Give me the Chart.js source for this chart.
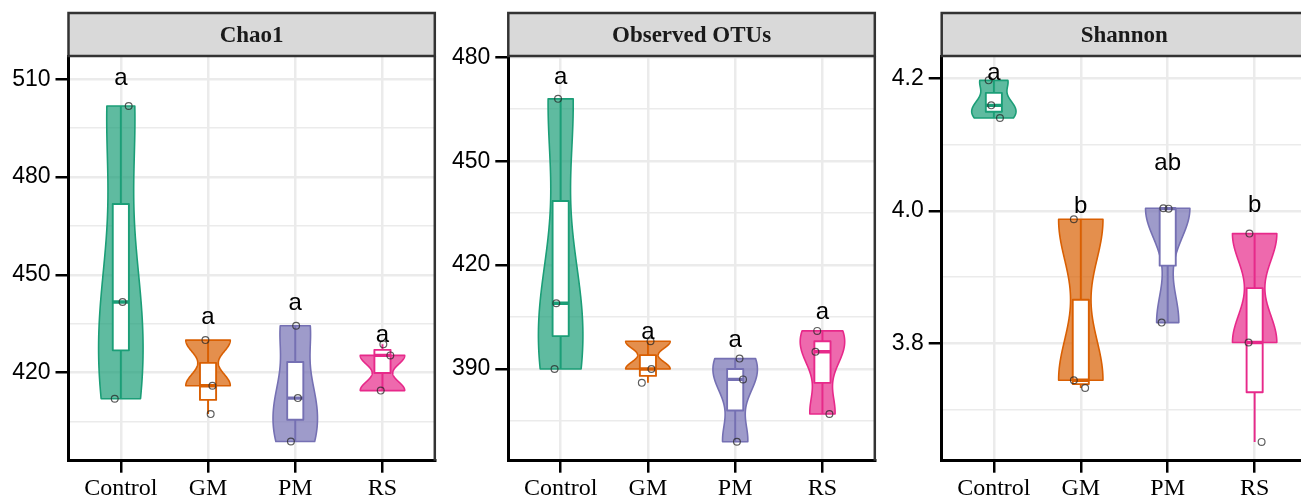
<!DOCTYPE html>
<html>
<head>
<meta charset="utf-8">
<script src="https://cdn.jsdelivr.net/npm/chart.js@4.4.1/dist/chart.umd.min.js"></script>
<style>
  html, body { margin: 0; padding: 0; background: #ffffff; overflow: hidden; width: 1301px; height: 495px; }
  .panel { position: absolute; top: 0; }
  canvas { display: block; }
</style>
</head>
<body>
<div class="panel" style="left:0px"><canvas id="chao1" width="440" height="495" style="width:440px;height:495px"></canvas></div>
<div class="panel" style="left:440px"><canvas id="otus" width="440" height="495" style="width:440px;height:495px"></canvas></div>
<div class="panel" style="left:880px"><canvas id="shannon" width="432" height="495" style="width:432px;height:495px"></canvas></div>
<script>
// Treatment groups and their Dark2 colours
const groups = ['Control', 'GM', 'PM', 'RS'];
const groupColors = ['#1B9E77', '#D95F02', '#7570B3', '#E7298A'];

// Chao1 richness (three replicates per group)
const chao1Values = [[501.8, 441.7, 412.0], [430.0, 416.0, 407.3], [434.4, 412.2, 398.9], [428.7, 425.3, 414.5]];
const chao1Jitter = [[0.09, 0.02, -0.07], [-0.03, 0.05, 0.03], [0.01, 0.03, -0.05], [0.01, 0.09, -0.02]];
const chao1ViolinSamples = [[501.8, 441.7, 412.0], [430.0, 416.0], [434.4, 412.2, 398.9], [425.3, 414.5]];
const chao1Letters = ['a', 'a', 'a', 'a'];
const chao1LetterAt = [508.4, 434.9, 439.2, 429.3];
const chao1MajorTicks = [420, 450, 480, 510];
const chao1MinorTicks = [405, 435, 465, 495];

// Observed OTUs
const otuValues = [[468, 409, 390], [398, 390, 386], [393, 387, 369], [401, 395, 377]];
const otuJitter = [[-0.03, -0.05, -0.07], [0.03, 0.04, -0.07], [0.05, 0.09, 0.02], [-0.06, -0.08, 0.08]];
const otuViolinSamples = [[468, 409, 390], [398, 390], [393, 387, 369], [401, 395, 377]];
const otuLetters = ['a', 'a', 'a', 'a'];
const otuLetterAt = [472.4, 398.6, 396.3, 404.3];
const otuMajorTicks = [390, 420, 450, 480];
const otuMinorTicks = [375, 405, 435, 465];

// Shannon diversity
const shannonValues = [[4.1975, 4.1597, 4.1405], [3.9875, 3.7441, 3.7325], [4.0041, 4.0035, 3.8313], [3.9658, 3.8011, 3.6509]];
const shannonJitter = [[-0.06, -0.03, 0.07], [-0.08, -0.08, 0.05], [-0.05, 0.01, -0.07], [-0.06, -0.07, 0.08]];
const shannonViolinSamples = [[4.1975, 4.1597, 4.1405], [3.9875, 3.7441], [4.0041, 4.0035, 3.8313], [3.9658, 3.8011]];
const shannonLetters = ['a', 'b', 'ab', 'b'];
const shannonLetterAt = [4.1975, 3.9976, 4.0625, 3.998];
const shannonMajorTicks = [3.8, 4.0, 4.2];
const shannonMinorTicks = [3.7, 3.9, 4.1];

// ---- summary statistics (R-style) ----
function quantile7(sorted, p) {
  const h = (sorted.length - 1) * p;
  const lo = Math.floor(h), hi = Math.ceil(h);
  return sorted[lo] + (h - lo) * (sorted[hi] - sorted[lo]);
}
function boxStats(vals) {
  const s = [...vals].sort((a, b) => a - b);
  const q1 = quantile7(s, 0.25), med = quantile7(s, 0.5), q3 = quantile7(s, 0.75);
  const iqr = q3 - q1;
  const lo = s.find(v => v >= q1 - 1.5 * iqr);
  const hi = [...s].reverse().find(v => v <= q3 + 1.5 * iqr);
  return { q1, med, q3, lo, hi };
}
function stdDev(a) {
  const m = a.reduce((t, v) => t + v, 0) / a.length;
  return Math.sqrt(a.reduce((t, v) => t + (v - m) * (v - m), 0) / (a.length - 1));
}
function bwNrd0(a) {
  const s = [...a].sort((p, q) => p - q);
  const hi = stdDev(s);
  let lo = Math.min(hi, (quantile7(s, 0.75) - quantile7(s, 0.25)) / 1.34);
  if (!lo) lo = hi || Math.abs(s[0]) || 1;
  return 0.9 * lo * Math.pow(s.length, -0.2);
}
// Gaussian kernel density over the sample range, scaled to a maximum of 1
function violinProfile(samples, steps) {
  const s = [...samples].sort((p, q) => p - q);
  const bw = bwNrd0(s);
  const from = s[0], to = s[s.length - 1];
  const prof = [];
  for (let i = 0; i <= steps; i++) {
    const v = from + (to - from) * i / steps;
    let d = 0;
    s.forEach(xi => { const z = (v - xi) / bw; d += Math.exp(-0.5 * z * z); });
    prof.push([v, d]);
  }
  const mx = Math.max(...prof.map(r => r[1]));
  return prof.map(([v, d]) => [v, d / mx]);
}
function withAlpha(hex, a) {
  const n = parseInt(hex.slice(1), 16);
  return `rgba(${(n >> 16) & 255},${(n >> 8) & 255},${n & 255},${a})`;
}

const VIOLIN_WIDTH = 0.51;
const BOX_WIDTH = 0.185;
const STRIP_TOP = 13;

function makePanel(p) {
  const canvas = document.getElementById(p.canvasId);
  const points = [];
  p.values.forEach((vals, g) => vals.forEach((v, i) => points.push({ x: g + 1 + p.jitter[g][i], y: v })));
  const allTicks = [...p.majorTicks, ...p.minorTicks].sort((a, b) => a - b);
  const isMajor = v => p.majorTicks.some(m => Math.abs(m - v) < 1e-9);

  const facet = {
    id: 'facet_' + p.canvasId,
    beforeDatasetsDraw(chart) {
      const { ctx, chartArea, scales: { x, y } } = chart;
      ctx.save();
      ctx.beginPath();
      ctx.rect(chartArea.left, chartArea.top, chartArea.right - chartArea.left, chartArea.bottom - chartArea.top);
      ctx.clip();
      // violins
      p.violinSamples.forEach((samples, g) => {
        const prof = violinProfile(samples, 200);
        const c = g + 1, hw = VIOLIN_WIDTH / 2;
        ctx.beginPath();
        prof.forEach(([v, w], i) => {
          const px = x.getPixelForValue(c + w * hw), py = y.getPixelForValue(v);
          if (i === 0) ctx.moveTo(px, py); else ctx.lineTo(px, py);
        });
        for (let i = prof.length - 1; i >= 0; i--) {
          const [v, w] = prof[i];
          ctx.lineTo(x.getPixelForValue(c - w * hw), y.getPixelForValue(v));
        }
        ctx.closePath();
        ctx.fillStyle = withAlpha(groupColors[g], 0.7);
        ctx.fill();
        ctx.lineWidth = 1.6;
        ctx.lineJoin = 'round';
        ctx.strokeStyle = groupColors[g];
        ctx.stroke();
      });
      // box plots
      p.values.forEach((vals, g) => {
        const st = boxStats(vals);
        const c = g + 1, col = groupColors[g];
        const xc = x.getPixelForValue(c);
        const x0 = x.getPixelForValue(c - BOX_WIDTH / 2), x1 = x.getPixelForValue(c + BOX_WIDTH / 2);
        ctx.strokeStyle = col;
        ctx.lineWidth = 1.9;
        ctx.lineCap = 'butt';
        ctx.beginPath();
        ctx.moveTo(xc, y.getPixelForValue(st.q3)); ctx.lineTo(xc, y.getPixelForValue(st.hi));
        ctx.moveTo(xc, y.getPixelForValue(st.q1)); ctx.lineTo(xc, y.getPixelForValue(st.lo));
        ctx.stroke();
        const yt = y.getPixelForValue(st.q3), yb = y.getPixelForValue(st.q1);
        ctx.fillStyle = '#ffffff';
        ctx.fillRect(x0, yt, x1 - x0, yb - yt);
        ctx.strokeRect(x0, yt, x1 - x0, yb - yt);
        ctx.lineWidth = 3.4;
        ctx.beginPath();
        const ym = y.getPixelForValue(st.med);
        ctx.moveTo(x0, ym); ctx.lineTo(x1, ym);
        ctx.stroke();
      });
      ctx.restore();
    },
    afterDatasetsDraw(chart) {
      const { ctx, scales: { x, y } } = chart;
      ctx.save();
      ctx.font = '24px "Liberation Sans", Arial, sans-serif';
      ctx.fillStyle = '#000000';
      ctx.textAlign = 'center';
      ctx.textBaseline = 'alphabetic';
      p.letters.forEach((t, g) => ctx.fillText(t, x.getPixelForValue(g + 1), y.getPixelForValue(p.letterAt[g])));
      ctx.restore();
    },
    afterDraw(chart) {
      const { ctx, chartArea } = chart;
      const l = chartArea.left, r = chartArea.right, t = chartArea.top, b = chartArea.bottom;
      ctx.save();
      ctx.fillStyle = '#D9D9D9';
      ctx.fillRect(l, STRIP_TOP, r - l, t - STRIP_TOP);
      ctx.strokeStyle = '#333333';
      ctx.lineWidth = 2.5;
      ctx.strokeRect(l, STRIP_TOP, r - l, t - STRIP_TOP);
      ctx.beginPath();
      ctx.moveTo(r, t); ctx.lineTo(r, b);
      ctx.stroke();
      ctx.fillStyle = '#1a1a1a';
      ctx.font = 'bold 23px "Liberation Serif", "Times New Roman", serif';
      ctx.textAlign = 'center';
      ctx.textBaseline = 'alphabetic';
      ctx.fillText(p.title, (l + r) / 2, STRIP_TOP + 28.5);
      ctx.restore();
    }
  };

  return new Chart(canvas, {
    type: 'scatter',
    data: {
      datasets: [{
        data: points,
        pointRadius: 3.4,
        pointBorderWidth: 1.2,
        pointBorderColor: 'rgba(40,40,40,0.75)',
        pointBackgroundColor: 'rgba(0,0,0,0)',
        showLine: false
      }]
    },
    options: {
      responsive: false,
      animation: false,
      events: [],
      layout: { padding: { top: 56, right: p.padRight, left: 0, bottom: 0 } },
      plugins: { legend: { display: false }, tooltip: { enabled: false } },
      scales: {
        x: {
          type: 'linear', min: 0.4, max: 4.6,
          afterBuildTicks: s => { s.ticks = [1, 2, 3, 4].map(v => ({ value: v })); },
          afterFit: s => { s.height = 34.3; },
          ticks: {
            callback: v => groups[Math.round(v) - 1] || '',
            font: { family: '"Liberation Serif", "Times New Roman", serif', size: 24 },
            color: '#000000', padding: 1.5, maxRotation: 0, autoSkip: false
          },
          grid: { color: '#EBEBEB', lineWidth: 2.5, tickColor: '#000000', tickWidth: 2.5, tickLength: 12 },
          border: { display: true, color: '#000000', width: 3 }
        },
        y: {
          type: 'linear', min: p.yMin, max: p.yMax,
          afterBuildTicks: s => { s.ticks = allTicks.map(v => ({ value: v })); },
          afterFit: s => { s.width = p.axisWidth; },
          ticks: {
            callback: v => isMajor(v) ? v.toFixed(p.decimals) : '',
            font: { family: '"Liberation Sans", Arial, sans-serif', size: 23 },
            color: '#000000', padding: 5, autoSkip: false
          },
          grid: {
            color: '#EBEBEB',
            lineWidth: c => (c.tick && !isMajor(c.tick.value)) ? 1.6 : 2.5,
            tickColor: c => (c.tick && !isMajor(c.tick.value)) ? 'rgba(0,0,0,0)' : '#000000',
            tickWidth: 2.5, tickLength: 13
          },
          border: { display: true, color: '#000000', width: 3 }
        }
      }
    },
    plugins: [facet]
  });
}

makePanel({
  canvasId: 'chao1', title: 'Chao1',
  values: chao1Values, jitter: chao1Jitter, violinSamples: chao1ViolinSamples,
  letters: chao1Letters, letterAt: chao1LetterAt,
  majorTicks: chao1MajorTicks, minorTicks: chao1MinorTicks, decimals: 0,
  yMin: 393.0, yMax: 517.15, axisWidth: 68.5, padRight: 3.3
});
makePanel({
  canvasId: 'otus', title: 'Observed OTUs',
  values: otuValues, jitter: otuJitter, violinSamples: otuViolinSamples,
  letters: otuLetters, letterAt: otuLetterAt,
  majorTicks: otuMajorTicks, minorTicks: otuMinorTicks, decimals: 0,
  yMin: 363.52, yMax: 480.38, axisWidth: 68.3, padRight: 3.3
});
makePanel({
  canvasId: 'shannon', title: 'Shannon',
  values: shannonValues, jitter: shannonJitter, violinSamples: shannonViolinSamples,
  letters: shannonLetters, letterAt: shannonLetterAt,
  majorTicks: shannonMajorTicks, minorTicks: shannonMinorTicks, decimals: 1,
  yMin: 3.6225, yMax: 4.2343, axisWidth: 61.7, padRight: 2.0
});
</script>
</body>
</html>
